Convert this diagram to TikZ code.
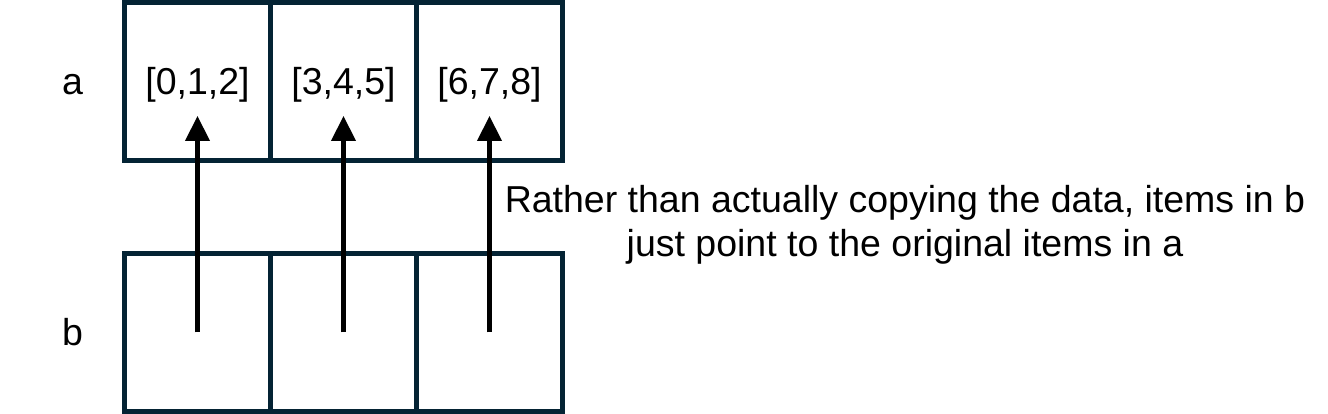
\documentclass[tikz,border=0pt]{standalone}
\usepackage{fontspec}
\setmainfont{Liberation Sans}
\usetikzlibrary{arrows.meta}
\definecolor{boxline}{RGB}{4,35,52}

\begin{document}
\begin{tikzpicture}[
x=1pt, y=-1pt,
every node/.style={
font=\fontsize{37.5}{44}\selectfont
},
cell/.style={
draw=boxline,
line width=5pt,
minimum width=146pt,
minimum height=158pt,
inner sep=0pt,
text height=30pt,
text depth=3pt
},
pointer/.style={
-{Triangle[width=24pt,length=25pt]},
line width=4.3pt
}
]
\useasboundingbox (0,0) rectangle (1328,414);

\node[anchor=base] (La) at (72.5,95) {a};
\node[anchor=base] (Lb) at (72.5,345) {b};

\node[cell] (A1) at (197.5,81.5) {[0,1,2]};
\node[cell] (A2) at (343.5,81.5) {[3,4,5]};
\node[cell] (A3) at (489.5,81.5) {[6,7,8]};

\node[cell] (B1) at (197.5,332.25) {};
\node[cell] (B2) at (343.5,332.25) {};
\node[cell] (B3) at (489.5,332.25) {};

\draw[pointer] (B1.center) -- ([yshift=-34.5pt]A1.center);
\draw[pointer] (B2.center) -- ([yshift=-34.5pt]A2.center);
\draw[pointer] (B3.center) -- ([yshift=-34.5pt]A3.center);

\node[align=center] (Note) at (905,225) {Rather than actually copying the data, items in b\\just point to the original items in a};

\end{tikzpicture}
\end{document}
